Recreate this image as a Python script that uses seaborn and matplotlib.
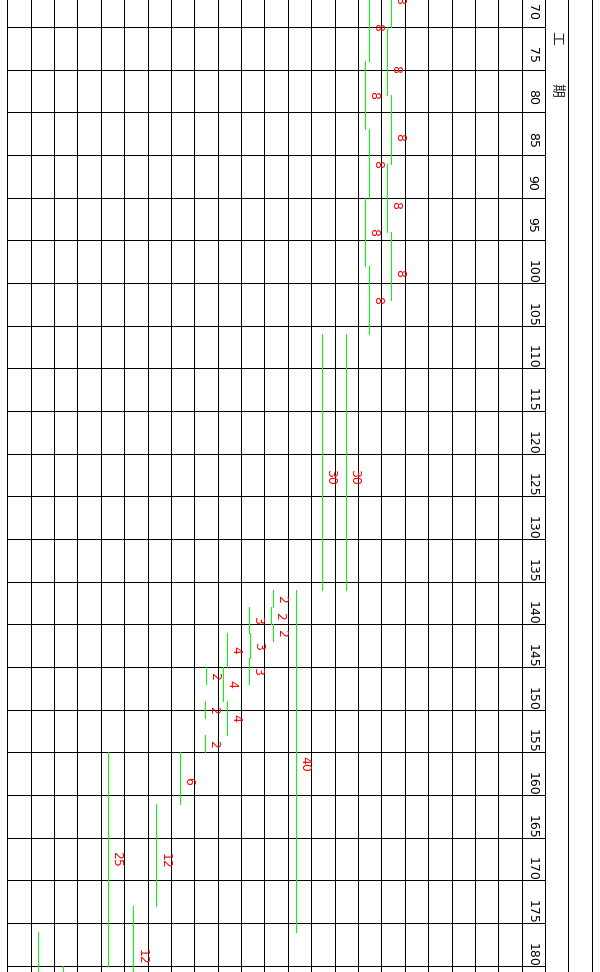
import matplotlib
matplotlib.use("Agg")
import pandas as pd
import seaborn as sns
import matplotlib.pyplot as plt

# one entry per work segment (rotated gantt: columns are tasks, time runs down)
task_col = [16, 16, 16, 16, 16, 15, 15, 15, 15, 15, 14, 13, 12,
            11, 11, 11, 10, 10, 10, 9, 9, 9, 8, 8, 8, 7, 6, 5, 4, 2, 1]
start = [62, 70, 78, 86, 94, 66, 74, 82, 90, 98, 106, 106, 136,
         136, 138, 140, 138, 141, 144, 141, 145, 149, 145, 149, 153,
         155, 161, 173, 155, 180, 176]
dur = [8, 8, 8, 8, 8, 8, 8, 8, 8, 8, 30, 30, 40,
       2, 2, 2, 3, 3, 3, 4, 4, 4, 2, 2, 2, 6, 12, 12, 25, 10, 12]
labels = ["8", "8", "8", "8", "8", "8", "8", "8", "8", "8", "30", "30", "40",
          "2", "2", "2", "3", "3", "3", "4", "4", "4", "2", "2", "2",
          "6", "12", "12", "25", "", ""]
ticks = list(range(70, 185, 5))

# small drawing offsets (style only)
x_nudge_px = [9.9, 5.9, 9.9, 5.9, 9.9, 11.3, 7.3, 11.3, 7.3, 11.3, 11.7, 11.1, 8.4,
              8.8, 6.8, 8.8, 7.6, 9.2, 7.6, 9.6, 5.6, 9.6, 12, 11, 11,
              9.3, 8.7, 9.1, 7.5, 9.2, 7.6]
label_shift = [0.87] * 5 + [0] * 5 + [1.73, 1.73, 0.36] + [0] * 12 + [0.32, 0.73, 0, 0, 0, 0]

COL_PX = 23.38
X0_PX = 7.3
DAY_PX = 8.5336
LW = 0.55


def build_frame():
    rows = []
    for i, (c, s, d, nx) in enumerate(zip(task_col, start, dur, x_nudge_px)):
        x = c + nx / COL_PX
        rows.append({"bar": i, "x": x, "t": s})
        rows.append({"bar": i, "x": x, "t": s + d})
    return pd.DataFrame(rows)


def draw(df):
    fig = plt.figure(figsize=(6, 9.72), dpi=100)
    ax = fig.add_axes([0, 0, 1, 1])

    # grid
    ax.hlines(ticks + [65, 185], 0, 23, color="black", linewidth=LW, antialiased=False)
    ax.vlines(range(26), 60, 190, color="black", linewidth=LW, antialiased=False)

    sns.lineplot(
        data=df, x="x", y="t", units="bar", estimator=None, orient="y",
        color="#00ff00", linewidth=LW, legend=False, ax=ax, antialiased=False
    )
    ax.set_xlim(-X0_PX / COL_PX, (600 - X0_PX) / COL_PX)
    ax.set_ylim(70 + (972 - 27) / DAY_PX, 70 - 27 / DAY_PX)
    ax.axis("off")

    for c, s, d, lab, nx, sh in zip(task_col, start, dur, labels, x_nudge_px, label_shift):
        if not lab:
            continue
        ax.text(c + (nx + 2) / COL_PX, s + d / 2 + sh, lab, rotation=270,
                ha="left", va="center", color="#ff0000", fontsize=9)

    for t in ticks:
        ax.text(22.45, t - 2.71, str(t), rotation=270, ha="center", va="top",
                color="black", fontsize=9)

    cjk = ["Noto Sans CJK SC", "DejaVu Sans"]
    ax.text(23.5, 70 + 11 / DAY_PX, "工", rotation=270, ha="center", va="center",
            fontsize=10, family=cjk)
    ax.text(23.5, 70 + 63 / DAY_PX, "期", rotation=270, ha="center", va="center",
            fontsize=10, family=cjk)

    fig.savefig("out.png", dpi=100)


def main():
    draw(build_frame())


if __name__ == "__main__":
    sns.set_theme(style="white")
    plt.rcParams["font.family"] = ["Liberation Sans Narrow", "DejaVu Sans"]
    main()
